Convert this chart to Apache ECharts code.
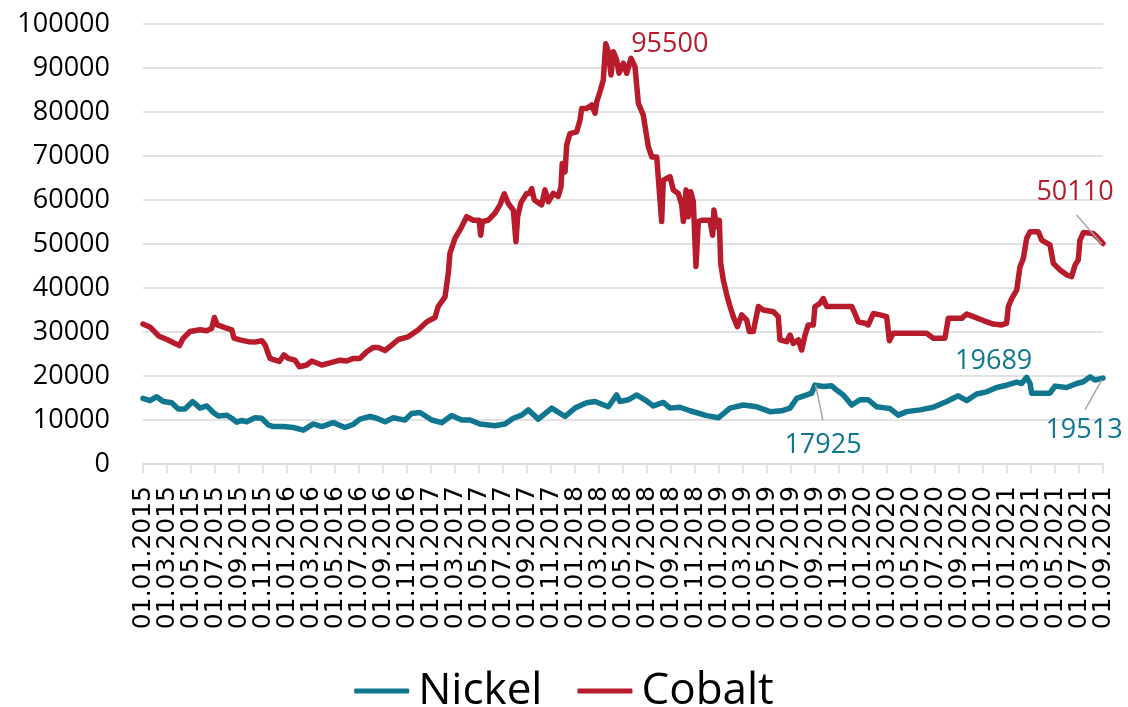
<!DOCTYPE html>
<html>
<head>
<meta charset="utf-8">
<script src="https://cdn.jsdelivr.net/npm/echarts@6/dist/echarts.min.js"></script>
<style>
html,body{margin:0;padding:0;background:#fff;}
#chart{width:1128px;height:707px;}
</style>
</head>
<body>
<div id="chart"></div>
<script>
// x = months since 01.01.2015; tick labels every 2 months
const xTickLabels = [
"01.01.2015","01.03.2015","01.05.2015","01.07.2015","01.09.2015","01.11.2015",
"01.01.2016","01.03.2016","01.05.2016","01.07.2016","01.09.2016","01.11.2016",
"01.01.2017","01.03.2017","01.05.2017","01.07.2017","01.09.2017","01.11.2017",
"01.01.2018","01.03.2018","01.05.2018","01.07.2018","01.09.2018","01.11.2018",
"01.01.2019","01.03.2019","01.05.2019","01.07.2019","01.09.2019","01.11.2019",
"01.01.2020","01.03.2020","01.05.2020","01.07.2020","01.09.2020","01.11.2020",
"01.01.2021","01.03.2021","01.05.2021","01.07.2021","01.09.2021"
];

const seriesNames = ["Nickel","Cobalt"];

const nickel = [
[0,14900],[0.58,14400],[1.14,15300],[1.69,14200],[2.39,13900],[2.94,12500],[3.5,12500],[4.14,14200],[4.75,12700],[5.31,13200],[5.86,11700],[6.28,10900],[6.97,11100],[7.39,10400],[7.81,9500],[8.22,9900],[8.64,9600],[9.33,10500],[9.89,10400],[10.44,8900],[10.86,8500],[11.69,8500],[12.53,8300],[13.36,7700],[14.19,9100],[14.89,8500],[15.86,9400],[16.83,8300],[17.53,9000],[18.08,10200],[18.92,10800],[19.47,10400],[20.17,9600],[20.86,10500],[21.42,10200],[21.83,10000],[22.39,11500],[23.08,11700],[24.06,10000],[24.89,9400],[25.72,11000],[26.56,10000],[27.25,10000],[28.08,9100],[29.33,8700],[30.17,9100],[30.86,10400],[31.56,11100],[32.11,12300],[32.94,10200],[34.06,12700],[35.17,10800],[36,12700],[36.97,13900],[37.67,14200],[38.78,13000],[39.47,15700],[39.75,14200],[40.44,14600],[41.14,15700],[41.83,14600],[42.53,13200],[43.36,14000],[43.92,12700],[44.75,12900],[45.58,12100],[46.97,11000],[47.94,10500],[48.92,12700],[50.03,13400],[51.14,13000],[52.25,11900],[53.22,12100],[53.92,12700],[54.47,14900],[55.31,15700],[55.72,16100],[56,17925],[56.69,17600],[57.39,17800],[57.8,16800],[58.36,15700],[59.06,13400],[59.75,14600],[60.44,14600],[61.14,13000],[61.97,12700],[62.25,12600],[62.94,11100],[63.64,11900],[64.75,12300],[65.86,12900],[66.97,14200],[67.94,15500],[68.64,14400],[69.47,15900],[70.31,16400],[71.14,17400],[71.97,17900],[72.81,18600],[73.22,18300],[73.64,19689],[73.92,18300],[74.06,16100],[75.58,16100],[76,17700],[76.97,17400],[77.81,18300],[78.36,18700],[78.92,19800],[79.33,19100],[80,19513]
];

const cobalt = [
[0,31800],[0.6,31100],[1.3,29100],[2,28300],[2.5,27600],[3.03,26900],[3.36,28600],[3.92,30100],[4.75,30500],[5.3,30300],[5.72,30800],[5.95,33300],[6.2,31600],[6.83,31000],[7.4,30500],[7.58,28600],[8.08,28200],[8.78,27800],[9.33,27700],[9.9,28000],[10.17,27100],[10.58,24000],[11,23600],[11.36,23300],[11.75,24800],[12.1,24000],[12.67,23600],[13.03,22100],[13.64,22500],[14.06,23400],[14.9,22500],[15.58,23000],[16.42,23600],[16.97,23400],[17.53,24000],[18.08,24000],[18.64,25500],[19.2,26500],[19.6,26500],[20.17,25800],[20.72,27000],[21.28,28300],[22.1,28900],[22.95,30500],[23.64,32300],[24.33,33300],[24.6,35800],[25.17,38000],[25.44,43300],[25.58,47900],[26,51300],[26.42,53200],[26.97,56200],[27.53,55400],[28,55400],[28.14,52000],[28.28,55100],[28.78,55400],[29.33,57000],[29.75,58900],[30.11,61400],[30.44,59200],[30.86,57700],[31.08,50500],[31.22,56200],[31.5,59400],[31.97,61500],[32.2,61500],[32.39,62600],[32.61,60000],[33.22,58900],[33.5,62300],[33.78,59600],[34.19,61500],[34.6,60800],[34.83,63000],[34.94,68300],[35.17,66400],[35.31,72500],[35.58,75100],[36.14,75500],[36.42,78200],[36.56,80800],[36.97,80800],[37.39,81600],[37.67,79700],[37.81,82300],[38.08,84600],[38.36,87300],[38.56,95500],[38.78,93700],[39,88400],[39.2,93700],[39.47,91800],[39.67,88800],[40.03,91100],[40.31,88800],[40.67,92200],[41,90300],[41.28,82000],[41.69,79300],[42.11,72100],[42.4,69800],[42.81,69800],[43.22,55100],[43.36,64500],[43.92,65300],[44.19,62300],[44.61,61500],[44.89,58900],[45.03,55100],[45.25,62300],[45.44,56200],[45.64,61900],[45.86,59600],[46.08,44900],[46.28,55100],[46.56,55400],[47.25,55400],[47.47,52000],[47.58,57700],[47.81,53900],[48.03,55400],[48.14,45600],[48.36,41800],[48.69,38000],[48.92,35800],[49.19,33500],[49.53,31200],[49.89,33900],[50.31,32700],[50.53,30100],[50.86,30100],[51.28,35800],[51.69,35000],[52.53,34600],[52.94,33500],[53.08,28200],[53.64,27800],[53.92,29300],[54.19,27400],[54.61,28200],[54.89,25900],[55.17,29300],[55.44,31600],[55.86,31600],[56,35800],[56.42,36500],[56.69,37600],[56.97,35800],[59.06,35800],[59.33,34200],[59.61,32300],[60.17,32000],[60.44,31600],[60.86,34200],[61.42,33900],[61.97,33500],[62.2,28000],[62.5,29700],[65.3,29700],[65.86,28600],[66.83,28600],[67.11,33100],[68.22,33100],[68.64,34100],[69.19,33500],[70.03,32600],[70.86,31800],[71.56,31600],[71.97,32000],[72.11,35800],[72.39,37600],[72.81,39500],[73.08,44800],[73.36,46700],[73.64,51300],[73.92,52800],[74.61,52800],[74.89,50900],[75.58,49800],[75.86,45600],[76.42,44100],[76.97,43000],[77.39,42600],[77.67,45200],[77.94,46400],[78.08,50900],[78.36,52600],[79.19,52400],[79.61,51300],[80,50110]
];

// annotated points: [month, value]
const nickelNotes = [[56,17925],[73.64,19689],[80,19513]];
const cobaltNotes = [[38.56,95500],[80,50110]];
// leader lines: [[m1,v1],[m2,v2]]
const nickelLeaders = [[[56.05,18000],[56.65,10000]], [[78.5,12300],[79.9,19100]]];
const cobaltLeaders = [[[77.8,56600],[79.9,50000]]];

const NICKEL = '#11768F';
const COBALT = '#B71B2C';
const FONT = 'Open Sans';

const nickelOffsets = [[8,60],[-33,-16],[-19,52]];
const cobaltOffsets = [[64,1],[-28,-51]];

function notes(list, offsets, color){
  return list.map((p,i)=>({
    coord:p, value:p[1], symbol:'circle', symbolSize:0,
    label:{show:true, position:'inside', offset:offsets[i], formatter:String(p[1]),
      color:color, fontFamily:FONT, fontSize:27}
  }));
}
function leaders(list){
  return list.map(l=>[{coord:l[0]},{coord:l[1]}]);
}

const chart = echarts.init(document.getElementById('chart'), null, {renderer:'canvas'});
chart.setOption({
  animation:false,
  backgroundColor:'#ffffff',
  grid:{left:143,right:25,top:24,bottom:243,containLabel:false},
  legend:{
    data:seriesNames, left:'center', top:664, icon:'roundRect',
    itemWidth:55, itemHeight:5, itemGap:35,
    textStyle:{fontFamily:FONT,fontSize:44,color:'#000',padding:[0,0,0,4]}
  },
  xAxis:[
    {
      type:'value', min:0, max:80, interval:2,
      axisLine:{show:false}, axisTick:{show:false}, axisLabel:{show:false},
      splitLine:{show:false}
    },
    {
      type:'category', data:xTickLabels, boundaryGap:false, position:'bottom',
      axisLine:{show:true,lineStyle:{color:'#D9D9D9',width:1.5}},
      axisTick:{show:true,length:9,interval:0,lineStyle:{color:'#D9D9D9',width:1.5}},
      splitLine:{show:false},
      axisLabel:{rotate:90, margin:22, interval:0, fontFamily:'DejaVu Sans', fontSize:25, color:'#000'}
    }
  ],
  yAxis:{
    type:'value', min:0, max:100000, interval:10000,
    axisLine:{show:false}, axisTick:{show:false},
    splitLine:{lineStyle:{color:'#D9D9D9',width:1.5}},
    axisLabel:{margin:33, fontFamily:FONT, fontSize:27, color:'#000', formatter:v=>String(v)}
  },
  series:[
    {name:seriesNames[0], type:'line', xAxisIndex:0, data:nickel, showSymbol:false, color:NICKEL,
     lineStyle:{width:5.5,color:NICKEL,cap:'round',join:'round'},
     markPoint:{data:notes(nickelNotes,nickelOffsets,NICKEL), silent:true},
     markLine:{symbol:['none','none'], silent:true, label:{show:false},
       lineStyle:{color:'#A6A6A6',width:1.5,type:'solid'}, data:leaders(nickelLeaders)}},
    {name:seriesNames[1], type:'line', xAxisIndex:0, data:cobalt, showSymbol:false, color:COBALT,
     lineStyle:{width:5.5,color:COBALT,cap:'round',join:'round'},
     markPoint:{data:notes(cobaltNotes,cobaltOffsets,COBALT), silent:true},
     markLine:{symbol:['none','none'], silent:true, label:{show:false},
       lineStyle:{color:'#A6A6A6',width:1.5,type:'solid'}, data:leaders(cobaltLeaders)}}
  ]
});
</script>
</body>
</html>
